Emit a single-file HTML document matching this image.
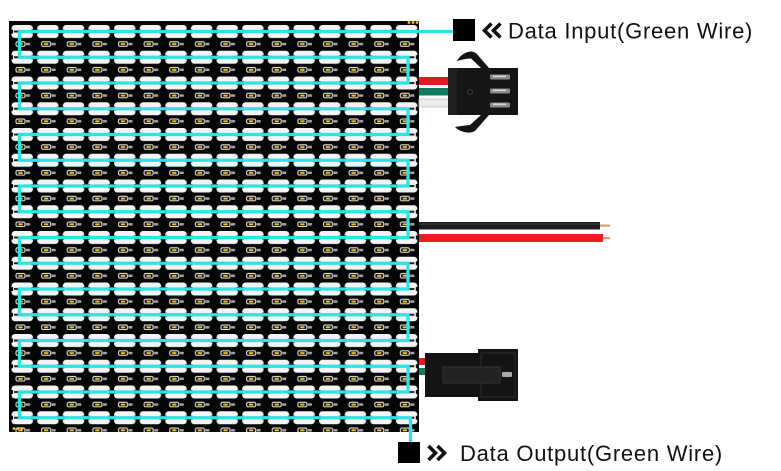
<!DOCTYPE html>
<html>
<head>
<meta charset="utf-8">
<style>
  html,body{margin:0;padding:0;background:#fff;}
  body{width:781px;height:471px;overflow:hidden;}
  svg{display:block;}
  .lbl{font-family:"Liberation Sans",Arial,sans-serif;font-size:22px;letter-spacing:0.75px;fill:#111;}
</style>
</head>
<body>
<svg width="781" height="471" viewBox="0 0 781 471" xmlns="http://www.w3.org/2000/svg">
  <defs>
    <pattern id="cell" patternUnits="userSpaceOnUse" x="11" y="25" width="25.625" height="25.75">
      <rect x="0.5" y="0" width="21.5" height="13" rx="3.5" fill="#f4f4f4"/>
      <rect x="3" y="5.5" width="16" height="2" fill="#222"/>
      <rect x="0" y="4.5" width="2" height="4" fill="#050505"/>
      <rect x="20.5" y="4.5" width="2" height="4" fill="#050505"/>
      <rect x="5" y="16.8" width="9" height="4.5" rx="1.5" fill="none" stroke="#e4e4e4" stroke-width="1.1"/>
      <rect x="7.3" y="18.1" width="4.4" height="2" fill="#f2c21b"/>
      <rect x="15" y="17.8" width="4" height="2.5" fill="#a5a5a5"/>
    </pattern>
    <clipPath id="pc"><rect x="9" y="21" width="410" height="411"/></clipPath>
  </defs>

  <!-- panel -->
  <rect x="9" y="21" width="410" height="411" fill="#060606"/>
  <rect x="9" y="21" width="410" height="411" fill="url(#cell)" clip-path="url(#pc)"/>

  <!-- yellow corner dots -->
  <g fill="#f5c518">
    <circle cx="409" cy="22.5" r="1.4"/><circle cx="413" cy="22.5" r="1.4"/><circle cx="417" cy="22.5" r="1.4"/>
    <circle cx="14" cy="428.5" r="1.4"/><circle cx="18" cy="428.5" r="1.4"/><circle cx="22" cy="428.5" r="1.4"/>
  </g>

  <!-- serpentine data line -->
  <path fill="none" stroke="#2fe3e3" stroke-width="3.3" stroke-linejoin="miter"
    d="M453,31.5 H19.5 V57.25 H408 V83 H19.5 V108.75 H408 V134.5 H19.5 V160.25 H408 V186 H19.5 V211.75 H408 V237.5 H19.5 V263.25 H408 V289 H19.5 V314.75 H408 V340.5 H19.5 V366.25 H408 V392 H19.5 V417.75 H410.5 V442"/>

  <!-- top connector wires -->
  <rect x="419" y="77" width="30" height="8" fill="#e31b23"/>
  <rect x="419" y="88" width="30" height="7.5" fill="#0f7a60"/>
  <rect x="419" y="99" width="30" height="8" fill="#ececec" stroke="#c4c4c4" stroke-width="0.8"/>

  <!-- top connector latch arms -->
  <path d="M457,61 C460,55 466,51.5 472,51.5 L476,53 L489,68 L481,68 L471,58.5 C466,58.5 461,60 457,61 Z" fill="#141414"/>
  <path d="M455,127 C459,131 465,133 471,132.5 L475,131 L489,115 L481,115 L470,125 C465,125.5 460,126 455,127 Z" fill="#141414"/>
  <!-- top connector body -->
  <rect x="448" y="68" width="70" height="47" fill="#151515"/>
  <rect x="448" y="68" width="9" height="47" fill="#202020"/>
  <circle cx="470" cy="92" r="2.5" fill="none" stroke="#3a3a3a" stroke-width="1"/>
  <g fill="#8c8c8c">
    <rect x="490" y="74.5" width="20" height="5" rx="1"/>
    <rect x="490" y="88.5" width="20" height="5" rx="1"/>
    <rect x="490" y="102.5" width="20" height="5" rx="1"/>
  </g>
  <g fill="#d6d6d6">
    <rect x="493" y="75.5" width="13" height="1.6"/>
    <rect x="493" y="89.5" width="13" height="1.6"/>
    <rect x="493" y="103.5" width="13" height="1.6"/>
  </g>

  <!-- middle power wires -->
  <rect x="419" y="222" width="181" height="7.5" fill="#1d1d1d"/>
  <rect x="419" y="223.5" width="181" height="1.2" fill="#3a3a3a"/>
  <rect x="600" y="224.5" width="10" height="2.2" fill="#c9a46a"/>
  <rect x="419" y="234" width="184" height="8" fill="#ee1c24"/>
  <rect x="603" y="237" width="7" height="2.2" fill="#c9a46a"/>

  <!-- bottom connector -->
  <rect x="419" y="358" width="8" height="7" fill="#e31b23"/>
  <rect x="419" y="368" width="8" height="7" fill="#0f7a60"/>
  <rect x="425" y="353" width="54" height="44" fill="#141414"/>
  <rect x="478" y="349" width="40" height="52" fill="#141414"/>
  <rect x="481" y="353" width="34" height="44" fill="none" stroke="#2c2c2c" stroke-width="1"/>
  <rect x="443" y="367" width="57" height="16" fill="#232323" stroke="#333" stroke-width="1"/>
  <rect x="502" y="372" width="10" height="5" rx="1" fill="#a8a8a8"/>

  <!-- input label -->
  <rect x="453" y="19" width="22" height="22" fill="#000"/>
  <g fill="none" stroke="#111" stroke-width="3.6" stroke-linecap="butt" stroke-linejoin="miter">
    <polyline points="491.5,23.5 484.5,30.5 491.5,37.5"/>
    <polyline points="500.5,23.5 493.5,30.5 500.5,37.5"/>
  </g>
  <text class="lbl" x="508" y="38.5">Data Input(Green Wire)</text>

  <!-- output label -->
  <rect x="398" y="442" width="22" height="21" fill="#000"/>
  <g fill="none" stroke="#111" stroke-width="3.6" stroke-linecap="butt" stroke-linejoin="miter">
    <polyline points="428.5,446 435.5,453 428.5,460"/>
    <polyline points="437.5,446 444.5,453 437.5,460"/>
  </g>
  <text class="lbl" x="460" y="461">Data Output(Green Wire)</text>
</svg>
</body>
</html>
